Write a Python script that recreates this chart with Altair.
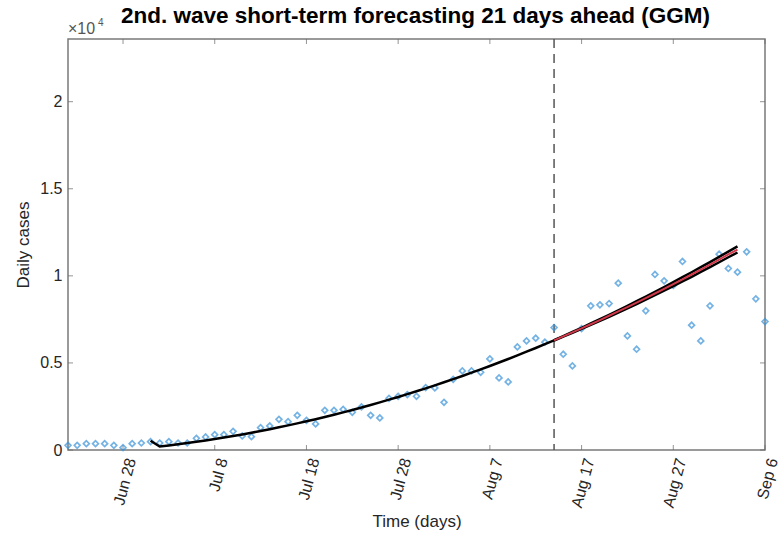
import altair as alt
import pandas as pd

# ---------------- data ----------------
obs_dates = pd.date_range("2020-06-22", "2020-09-06").strftime("%Y-%m-%d").tolist()
obs_cases = [
    268, 268, 364, 364, 364, 268, 134, 364, 402,            # Jun 22-30
    479, 402, 479, 402, 402, 670, 747, 881, 881, 1073,      # Jul 1-10
    805, 766, 1284, 1380, 1763, 1629, 1993, 1705, 1500, 2280,  # Jul 11-20
    2280, 2337, 2165, 2472, 1993, 1839, 2970, 3085, 3181, 3085, 3583,  # Jul 21-31
    3564, 2740, 4062, 4541, 4541, 4464, 5231, 4139, 3909, 5920,  # Aug 1-10
    6265, 6419, 6189, 7032, 5499, 4828, 6974, 8277, 8335, 8411,  # Aug 11-20
    9580, 6553, 5786, 7990, 10078, 9714, 9446, 10825, 7166, 6265, 8277,  # Aug 21-31
    11247, 10423, 10212, 11381, 8680, 7377,                 # Sep 1-6
]

fit_dates = pd.date_range("2020-07-01", "2020-08-14").strftime("%Y-%m-%d").tolist()
fit_vals = [
    530, 200, 262, 328, 397, 471, 548, 629, 714, 802,
    895, 991, 1091, 1195, 1302, 1414, 1529, 1648, 1771, 1897,
    2028, 2162, 2300, 2442, 2587, 2737, 2890, 3047, 3208, 3372,
    3541, 3713, 3889, 4069, 4252, 4440, 4631, 4826, 5025, 5227,
    5434, 5644, 5858, 6076, 6297,
]

fc_dates = pd.date_range("2020-08-14", "2020-09-03").strftime("%Y-%m-%d").tolist()
fc_mean = [6297, 6523, 6752, 6985, 7222, 7462, 7707, 7955, 8207, 8463, 8722,
           8986, 9253, 9524, 9799, 10077, 10360, 10646, 10936, 11230, 11500]
fc_lower = [6287, 6505, 6726, 6951, 7180, 7412, 7649, 7889, 8133, 8381, 8632,
            8888, 9147, 9410, 9677, 9947, 10222, 10500, 10782, 11068, 11340]
fc_upper = [6307, 6541, 6778, 7019, 7264, 7512, 7765, 8021, 8281, 8545, 8812,
            9084, 9359, 9638, 9921, 10207, 10498, 10792, 11090, 11392, 11690]

forecast_start = ["2020-08-14"]
x_tick_dates = ["2020-06-28", "2020-07-08", "2020-07-18", "2020-07-28",
                "2020-08-07", "2020-08-17", "2020-08-27", "2020-09-06"]
y_tick_vals = [0, 5000, 10000, 15000, 20000]
x_domain = ["2020-06-22", "2020-09-06"]
y_domain = [0, 23600]

title_text = "2nd. wave short-term forecasting 21 days ahead (GGM)"

# ---------------- helpers ----------------
def ms(d):
    return int(pd.Timestamp(d, tz="UTC").timestamp() * 1000)

W, H = 697, 411
FONT = "Liberation Sans"
BLUE = "#3a93d8"
TXT = "#262626"

x_scale = alt.Scale(type="utc", domain=[ms(d) for d in x_domain], nice=False)
y_scale = alt.Scale(domain=y_domain, nice=False, zero=True)

x_axis = alt.Axis(values=[ms(d) for d in x_tick_dates], format="%b %-d",
                  labelAngle=285, labelAlign="right", labelBaseline="top",
                  labelPadding=6, title="Time (days)", titlePadding=4,
                  grid=False, ticks=False, domain=False)
y_axis = alt.Axis(values=y_tick_vals, labelExpr="datum.value / 10000",
                  labelPadding=6, title="Daily cases", titlePadding=7,
                  grid=False, ticks=False, domain=False)

xenc = alt.X("date:T", scale=x_scale, axis=x_axis)
yenc = alt.Y("value:Q", scale=y_scale, axis=y_axis)

df_obs = pd.DataFrame({"date": obs_dates, "value": obs_cases})
df_fit = pd.DataFrame({"date": fit_dates, "value": fit_vals})
df_mean = pd.DataFrame({"date": fc_dates, "value": fc_mean})
df_low = pd.DataFrame({"date": fc_dates, "value": fc_lower})
df_up = pd.DataFrame({"date": fc_dates, "value": fc_upper})
df_vline = pd.DataFrame({"date": forecast_start})
df_xt = pd.DataFrame({"date": x_tick_dates})
df_yt = pd.DataFrame({"value": y_tick_vals})

points = alt.Chart(df_obs).mark_point(shape="diamond", filled=False, size=34,
                                      strokeWidth=1.7, color=BLUE).encode(x=xenc, y=yenc)
fit = alt.Chart(df_fit).mark_line(color="black", strokeWidth=2.5).encode(x=xenc, y=yenc)
low = alt.Chart(df_low).mark_line(color="black", strokeWidth=2.5).encode(x=xenc, y=yenc)
up = alt.Chart(df_up).mark_line(color="black", strokeWidth=2.5).encode(x=xenc, y=yenc)
mean = alt.Chart(df_mean).mark_line(color="#d0384a", strokeWidth=2).encode(x=xenc, y=yenc)
vline = alt.Chart(df_vline).mark_rule(color="#555555", strokeWidth=1.5,
                                      strokeDash=[9, 6]).encode(x=xenc)

tick_col = "#666666"
xt_bot = alt.Chart(df_xt).mark_tick(color=tick_col, thickness=1, size=5,
                                    orient="vertical").encode(x=xenc, y=alt.value(H - 2.5))
xt_top = alt.Chart(df_xt).mark_tick(color=tick_col, thickness=1, size=5,
                                    orient="vertical").encode(x=xenc, y=alt.value(2.5))
yt_left = alt.Chart(df_yt).mark_tick(color=tick_col, thickness=1, size=5,
                                     orient="horizontal").encode(y=yenc, x=alt.value(2.5))
yt_right = alt.Chart(df_yt).mark_tick(color=tick_col, thickness=1, size=5,
                                      orient="horizontal").encode(y=yenc, x=alt.value(W - 2.5))

exp_base = alt.Chart(pd.DataFrame({"t": ["×10"]})).mark_text(
    font=FONT, fontSize=16, color="#555555", align="left", baseline="alphabetic"
).encode(text="t:N", x=alt.value(0), y=alt.value(-5))
exp_pow = alt.Chart(pd.DataFrame({"t": ["4"]})).mark_text(
    font=FONT, fontSize=10, color="#555555", align="left", baseline="alphabetic"
).encode(text="t:N", x=alt.value(30), y=alt.value(-13))

title = alt.Chart(pd.DataFrame({"t": [title_text]})).mark_text(
    font=FONT, fontSize=22.5, fontWeight="bold", color="black",
    align="center", baseline="middle"
).encode(text="t:N", x=alt.value(W / 2 - 1), y=alt.value(-23))

chart = alt.layer(
    xt_bot, xt_top, yt_left, yt_right, vline, points, fit, low, up, mean,
    exp_base, exp_pow, title
).properties(
    width=W, height=H,
    autosize=alt.AutoSizeParams(type="none"),
    padding={"left": 68, "top": 39, "right": 16, "bottom": 88},
    background="white",
).configure_view(
    stroke="#7a7a7a", strokeWidth=1.5
).configure_axis(
    labelFont=FONT, labelFontSize=16, labelColor=TXT,
    titleFont=FONT, titleFontSize=17, titleColor=TXT, titleFontWeight="normal",
)

chart.save("out.html", embed_options={"renderer": "svg", "actions": False})
